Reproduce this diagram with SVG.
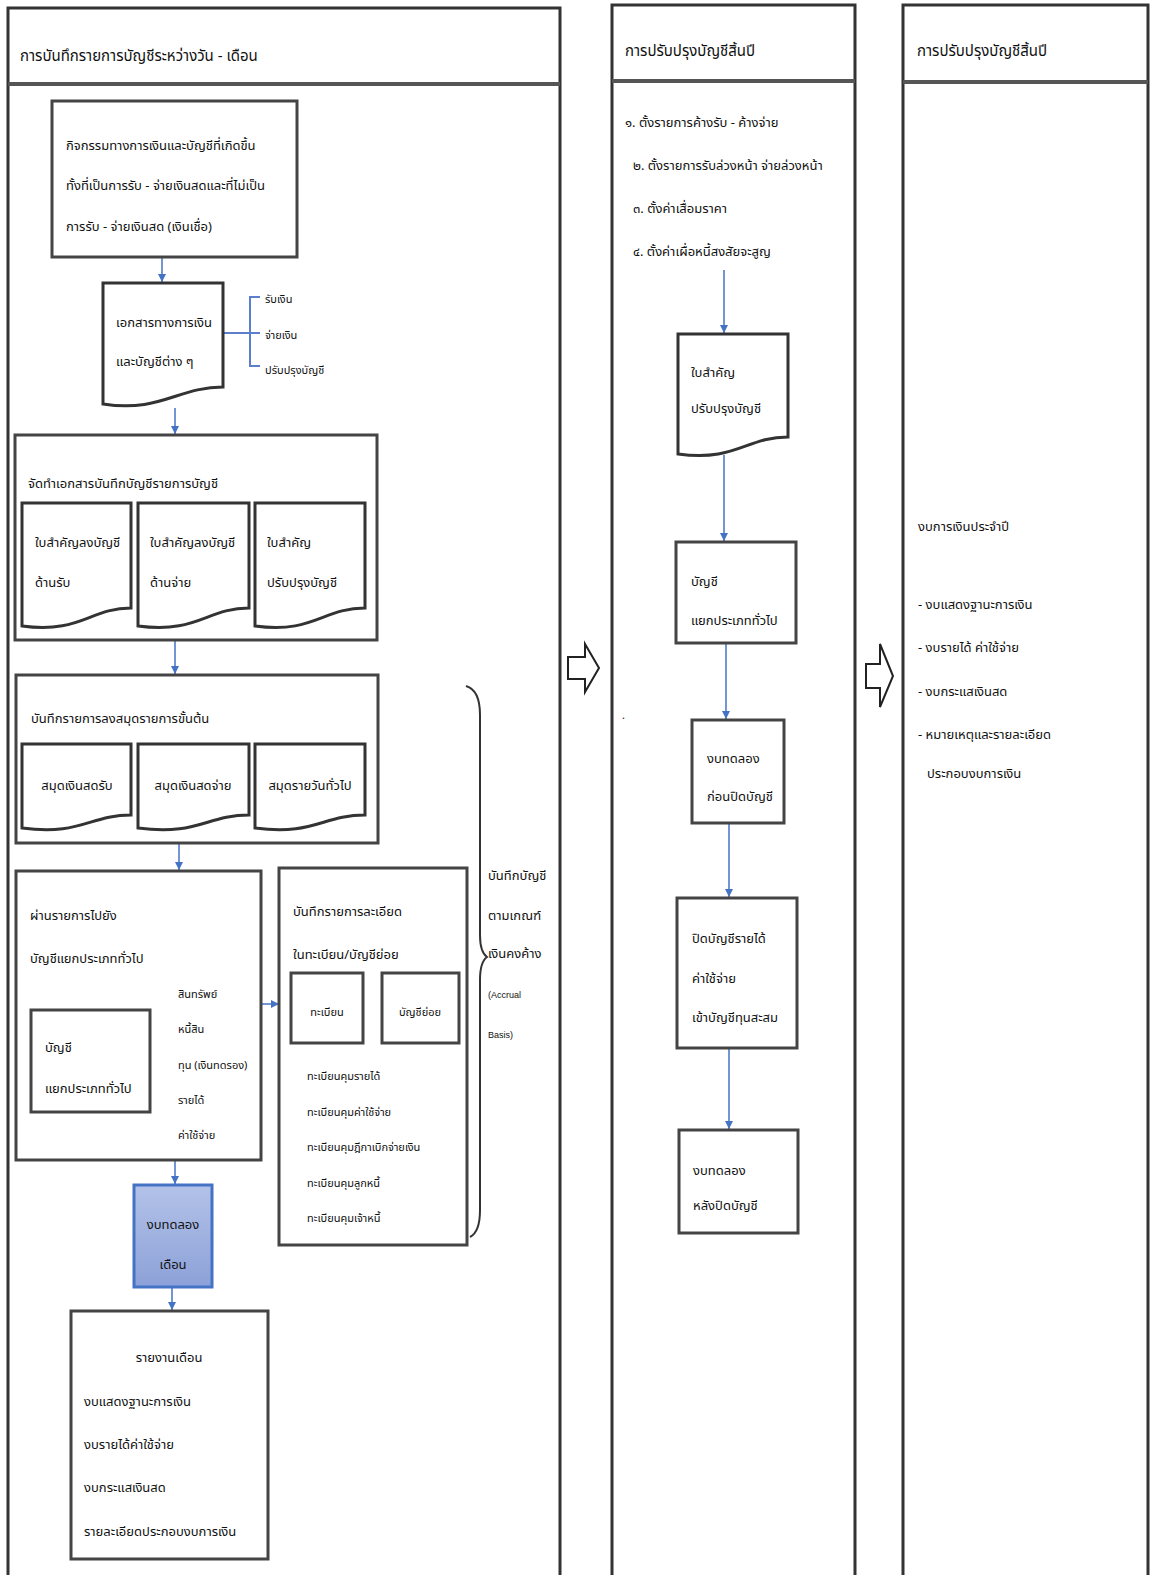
<svg xmlns="http://www.w3.org/2000/svg" width="1151" height="1575" viewBox="0 0 1151 1575">
<style>
.lane{fill:#fff;stroke:#333;stroke-width:3}
.hd{stroke:#555;stroke-width:4}
.box{fill:#fff;stroke:#444;stroke-width:3}
.doc{fill:#fff;stroke:#333;stroke-width:3}
.t{font-family:"Noto Sans Thai","Noto Sans Thai UI","Tahoma","Leelawadee UI","Garuda","Loma","DejaVu Sans",sans-serif;font-size:13px;fill:#111}
.h{font-size:15px}
.s{font-size:11px}
.e{font-family:"Liberation Sans",sans-serif;font-size:9px}
.c{stroke:#4472C4;stroke-width:1.5;fill:none}
.br{stroke:#5b7fcc;stroke-width:2;fill:none}
.blk{fill:#fff;stroke:#222;stroke-width:2}
</style>
<defs>
<marker id="ah" viewBox="0 0 10 10" refX="10" refY="5" markerWidth="8" markerHeight="8" markerUnits="userSpaceOnUse" orient="auto"><path d="M0,0 L10,5 L0,10 z" fill="#4472C4"/></marker>
<linearGradient id="bg" x1="0" y1="0" x2="0" y2="1"><stop offset="0" stop-color="#B3C2E8"/><stop offset="1" stop-color="#8CA1D8"/></linearGradient>
</defs>

<!-- lanes -->
<g id="lane-left">
<rect class="lane" x="8" y="8" width="552" height="1575"/>
<line class="hd" x1="8" y1="84" x2="560" y2="84"/>
<text class="t h" x="20" y="61">การบันทึกรายการบัญชีระหว่างวัน - เดือน</text>
</g>
<g id="lane-mid">
<rect class="lane" x="612" y="5" width="243" height="1578"/>
<line class="hd" x1="612" y1="81" x2="855" y2="81"/>
<text class="t h" x="625" y="56">การปรับปรุงบัญชีสิ้นปี</text>
</g>
<g id="lane-right">
<rect class="lane" x="903" y="5" width="245" height="1578"/>
<line class="hd" x1="903" y1="82" x2="1148" y2="82"/>
<text class="t h" x="917" y="56">การปรับปรุงบัญชีสิ้นปี</text>
</g>

<!-- connectors -->
<g id="connectors">
<line class="c" x1="162" y1="258" x2="162" y2="282" marker-end="url(#ah)"/>
<line class="c" x1="175" y1="408" x2="175" y2="434" marker-end="url(#ah)"/>
<line class="c" x1="175" y1="641" x2="175" y2="674" marker-end="url(#ah)"/>
<line class="c" x1="179" y1="844" x2="179" y2="870" marker-end="url(#ah)"/>
<line class="c" x1="262" y1="1004" x2="279" y2="1004" marker-end="url(#ah)"/>
<line class="c" x1="175" y1="1161" x2="175" y2="1184" marker-end="url(#ah)"/>
<line class="c" x1="172" y1="1288" x2="172" y2="1310" marker-end="url(#ah)"/>
<line class="c" x1="724" y1="270" x2="724" y2="333" marker-end="url(#ah)"/>
<line class="c" x1="724" y1="455" x2="724" y2="541" marker-end="url(#ah)"/>
<line class="c" x1="726" y1="644" x2="726" y2="719" marker-end="url(#ah)"/>
<line class="c" x1="729" y1="824" x2="729" y2="897" marker-end="url(#ah)"/>
<line class="c" x1="729" y1="1049" x2="729" y2="1129" marker-end="url(#ah)"/>
<!-- brackets -->
<path class="br" d="M224,333 H250 M260,297 H250 V366 H260 M250,333 H260"/>
<path class="br" d="M151,1063 H162 M175,992 H162 V1131 H175 M162,1028 H175 M162,1063 H175 M162,1098 H175"/>
<path class="br" d="M297,1044 V1222 H307 M297,1075 H307 M297,1110 H307 M297,1145 H307 M297,1182 H307"/>
<!-- brace -->
<path d="M466,686 Q480,690 480,715 V935 Q480,952 487,957 Q480,962 480,980 V1210 Q480,1232 470,1237" fill="none" stroke="#333" stroke-width="2"/>
<!-- block arrows -->
<path class="blk" d="M568,657 H585 V644 L599,668 L585,692 V679 H568 Z"/>
<path class="blk" d="M866,664 H880 V644 L893,676 L880,707 V688 H866 Z"/>
</g>

<!-- left lane nodes -->
<g id="n-activity">
<rect class="box" x="52" y="101" width="245" height="156"/>
<text class="t" x="66" y="150">กิจกรรมทางการเงินและบัญชีที่เกิดขึ้น</text>
<text class="t" x="66" y="190">ทั้งที่เป็นการรับ - จ่ายเงินสดและที่ไม่เป็น</text>
<text class="t" x="66" y="231">การรับ - จ่ายเงินสด (เงินเชื่อ)</text>
</g>
<g id="n-docs">
<path class="doc" d="M103,283 H223 V387 C178,387 160,413 103,404 Z"/>
<text class="t" x="116" y="327">เอกสารทางการเงิน</text>
<text class="t" x="116" y="366">และบัญชีต่าง ๆ</text>
<text class="t s" x="265" y="303">รับเงิน</text>
<text class="t s" x="265" y="339">จ่ายเงิน</text>
<text class="t s" x="265" y="374">ปรับปรุงบัญชี</text>
</g>
<g id="n-voucher">
<rect class="box" x="15" y="435" width="362" height="205"/>
<text class="t" x="28" y="488">จัดทำเอกสารบันทึกบัญชีรายการบัญชี</text>
<path class="doc" d="M22,503 H131 V608 C90,608 80,634 22,626 Z"/>
<path class="doc" d="M138,503 H249 V608 C207,608 197,634 138,626 Z"/>
<path class="doc" d="M255,503 H365 V608 C323,608 313,634 255,626 Z"/>
<text class="t" x="35" y="547">ใบสำคัญลงบัญชี</text>
<text class="t" x="35" y="587">ด้านรับ</text>
<text class="t" x="150" y="547">ใบสำคัญลงบัญชี</text>
<text class="t" x="150" y="587">ด้านจ่าย</text>
<text class="t" x="267" y="547">ใบสำคัญ</text>
<text class="t" x="267" y="587">ปรับปรุงบัญชี</text>
</g>
<g id="n-journal">
<rect class="box" x="16" y="675" width="362" height="168"/>
<text class="t" x="31" y="723">บันทึกรายการลงสมุดรายการขั้นต้น</text>
<path class="doc" d="M22,744 H131 V815 C90,815 80,836 22,828 Z"/>
<path class="doc" d="M138,744 H249 V815 C207,815 197,836 138,828 Z"/>
<path class="doc" d="M255,744 H365 V815 C323,815 313,836 255,828 Z"/>
<text class="t" x="77" y="790" text-anchor="middle">สมุดเงินสดรับ</text>
<text class="t" x="193" y="790" text-anchor="middle">สมุดเงินสดจ่าย</text>
<text class="t" x="310" y="790" text-anchor="middle">สมุดรายวันทั่วไป</text>
</g>
<g id="n-ledger">
<rect class="box" x="16" y="871" width="245" height="289"/>
<text class="t" x="30" y="920">ผ่านรายการไปยัง</text>
<text class="t" x="30" y="963">บัญชีแยกประเภททั่วไป</text>
<rect class="box" x="31" y="1010" width="119" height="102"/>
<text class="t" x="45" y="1052">บัญชี</text>
<text class="t" x="45" y="1093">แยกประเภททั่วไป</text>
<text class="t s" x="178" y="998">สินทรัพย์</text>
<text class="t s" x="178" y="1033">หนี้สิน</text>
<text class="t s" x="178" y="1069">ทุน (เงินทดรอง)</text>
<text class="t s" x="178" y="1104">รายได้</text>
<text class="t s" x="178" y="1139">ค่าใช้จ่าย</text>
</g>
<g id="n-subledger">
<rect class="box" x="279" y="868" width="188" height="377"/>
<text class="t" x="293" y="916">บันทึกรายการละเอียด</text>
<text class="t" x="293" y="959">ในทะเบียน/บัญชีย่อย</text>
<rect class="box" x="291" y="973" width="72" height="70"/>
<rect class="box" x="382" y="973" width="77" height="70"/>
<text class="t s" x="327" y="1016" text-anchor="middle">ทะเบียน</text>
<text class="t s" x="420" y="1016" text-anchor="middle">บัญชีย่อย</text>
<text class="t s" x="307" y="1080">ทะเบียนคุมรายได้</text>
<text class="t s" x="307" y="1116">ทะเบียนคุมค่าใช้จ่าย</text>
<text class="t s" x="307" y="1151">ทะเบียนคุมฎีกาเบิกจ่ายเงิน</text>
<text class="t s" x="307" y="1187">ทะเบียนคุมลูกหนี้</text>
<text class="t s" x="307" y="1222">ทะเบียนคุมเจ้าหนี้</text>
</g>
<g id="n-accrual">
<text class="t" x="488" y="880">บันทึกบัญชี</text>
<text class="t" x="488" y="920">ตามเกณฑ์</text>
<text class="t" x="488" y="958">เงินคงค้าง</text>
<text class="t e" x="488" y="998">(Accrual</text>
<text class="t e" x="488" y="1038">Basis)</text>
</g>
<g id="n-tb-month">
<rect x="134" y="1185" width="78" height="102" fill="url(#bg)" stroke="#4472C4" stroke-width="3"/>
<text class="t" x="173" y="1229" text-anchor="middle">งบทดลอง</text>
<text class="t" x="173" y="1269" text-anchor="middle">เดือน</text>
</g>
<g id="n-report">
<rect class="box" x="71" y="1311" width="197" height="248"/>
<text class="t" x="169" y="1362" text-anchor="middle">รายงานเดือน</text>
<text class="t" x="84" y="1406">งบแสดงฐานะการเงิน</text>
<text class="t" x="84" y="1449">งบรายได้ค่าใช้จ่าย</text>
<text class="t" x="84" y="1492">งบกระแสเงินสด</text>
<text class="t" x="84" y="1536">รายละเอียดประกอบงบการเงิน</text>
</g>

<!-- middle lane nodes -->
<g id="n-adjust-list">
<text class="t" x="625" y="127">๑. ตั้งรายการค้างรับ - ค้างจ่าย</text>
<text class="t" x="633" y="170">๒. ตั้งรายการรับล่วงหน้า  จ่ายล่วงหน้า</text>
<text class="t" x="633" y="213">๓. ตั้งค่าเสื่อมราคา</text>
<text class="t" x="633" y="256">๔. ตั้งค่าเผื่อหนี้สงสัยจะสูญ</text>
<text class="t s" x="622" y="719">.</text>
</g>
<g id="n-adj-voucher">
<path class="doc" d="M678,334 H788 V437 C746,437 736,462 678,454 Z"/>
<text class="t" x="691" y="377">ใบสำคัญ</text>
<text class="t" x="691" y="413">ปรับปรุงบัญชี</text>
</g>
<g id="n-gl">
<rect class="box" x="676" y="542" width="120" height="101"/>
<text class="t" x="691" y="586">บัญชี</text>
<text class="t" x="691" y="625">แยกประเภททั่วไป</text>
</g>
<g id="n-tb-before">
<rect class="box" x="692" y="720" width="92" height="103"/>
<text class="t" x="707" y="763">งบทดลอง</text>
<text class="t" x="707" y="801">ก่อนปิดบัญชี</text>
</g>
<g id="n-close">
<rect class="box" x="677" y="898" width="120" height="150"/>
<text class="t" x="692" y="943">ปิดบัญชีรายได้</text>
<text class="t" x="692" y="983">ค่าใช้จ่าย</text>
<text class="t" x="692" y="1022">เข้าบัญชีทุนสะสม</text>
</g>
<g id="n-tb-after">
<rect class="box" x="679" y="1130" width="119" height="103"/>
<text class="t" x="693" y="1175">งบทดลอง</text>
<text class="t" x="693" y="1210">หลังปิดบัญชี</text>
</g>

<!-- right lane -->
<g id="n-annual">
<text class="t" x="918" y="531">งบการเงินประจำปี</text>
<text class="t" x="918" y="609">- งบแสดงฐานะการเงิน</text>
<text class="t" x="918" y="652">- งบรายได้ ค่าใช้จ่าย</text>
<text class="t" x="918" y="696">- งบกระแสเงินสด</text>
<text class="t" x="918" y="739">- หมายเหตุและรายละเอียด</text>
<text class="t" x="927" y="778">ประกอบงบการเงิน</text>
</g>
</svg>
